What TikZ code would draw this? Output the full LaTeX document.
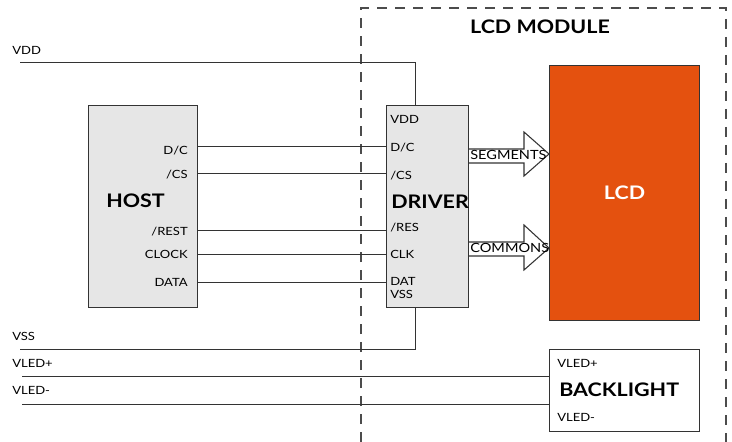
\documentclass[tikz,border=0pt]{standalone}
\usepackage{fontspec}
\setmainfont{Lato}[FakeStretch=1.15]
\usetikzlibrary{positioning,calc}
\definecolor{lcdorange}{HTML}{E4510F}
\definecolor{boxgray}{HTML}{E6E6E6}
\definecolor{wiregray}{HTML}{333333}
\begin{document}
\begin{tikzpicture}[x=0.75pt,y=-0.75pt,
    blk/.style={draw=wiregray, line width=0.8pt, inner sep=0pt, anchor=north west},
    wire/.style={wiregray, line width=0.75pt},
    pinlabel/.style={inner sep=0pt, font=\fontsize{8.5}{10}\selectfont},
    buslabel/.style={inner sep=0pt, font=\fontsize{9.5}{11}\selectfont},
    bigname/.style={inner sep=0pt, font=\fontsize{14}{16}\selectfont\bfseries},
    busarrow/.style={draw=wiregray, fill=white, line width=0.8pt, line join=miter}]
  \useasboundingbox (0,0) rectangle (732,442);
  %modulo
  \draw[gray!60!black, line width=0.8pt, dash pattern=on 7.5pt off 6pt] (361,442) -- (361,8) -- (726,8) -- (726,442);
  \node[bigname] (modname) at (540,27) {LCD MODULE};
  %blocchi
  \node[blk, fill=boxgray, minimum width=81.75pt, minimum height=151.5pt] (host) at (88,105) {};
  \node[blk, fill=boxgray, minimum width=61.5pt, minimum height=151.5pt] (driver) at (386,105) {};
  \node[blk, fill=lcdorange, minimum width=112.5pt, minimum height=191.25pt, text=white, font=\fontsize{14}{16}\selectfont\bfseries] (lcd) at (549,65) {LCD};
  \node[blk, fill=white, minimum width=112.5pt, minimum height=61.5pt] (backlight) at (549,349) {};
  \node[bigname, anchor=west] (hostname) at (106,201) {HOST};
  \node[bigname, anchor=west] (drivername) at (391,202) {DRIVER};
  \node[bigname, anchor=west] (blname) at (559,390) {BACKLIGHT};
  %pin host
  \node[pinlabel, anchor=east] (hdc) at (188,151) {D/C};
  \node[pinlabel, anchor=east] (hcs) at (188,175) {/CS};
  \node[pinlabel, anchor=east] (hres) at (188,232) {/REST};
  \node[pinlabel, anchor=east] (hclk) at (188,254) {CLOCK};
  \node[pinlabel, anchor=east] (hdat) at (188,282) {DATA};
  %pin driver
  \node[pinlabel, anchor=west] (dvdd) at (390,119) {VDD};
  \node[pinlabel, anchor=west] (ddc) at (390,148) {D/C};
  \node[pinlabel, anchor=west] (dcs) at (390,176) {/CS};
  \node[pinlabel, anchor=west] (dres) at (390,228) {/RES};
  \node[pinlabel, anchor=west] (dclk) at (390,254) {CLK};
  \node[pinlabel, anchor=west] (ddat) at (390,281) {DAT};
  \node[pinlabel, anchor=west] (dvss) at (390,294) {VSS};
  %pin backlight
  \node[pinlabel, anchor=west] (blp) at (557,363) {VLED+};
  \node[pinlabel, anchor=west] (blm) at (557,417) {VLED-};
  %alimentazioni
  \node[pinlabel, anchor=west] (vddname) at (12,50) {VDD};
  \node[pinlabel, anchor=west] (vssname) at (12,336) {VSS};
  \node[pinlabel, anchor=west] (vledpname) at (12,363) {VLED+};
  \node[pinlabel, anchor=west] (vledmname) at (12,390) {VLED-};
  \coordinate (vddin) at (20,63);
  \coordinate (vssin) at (20,349);
  \coordinate (vledpin) at (22,376);
  \coordinate (vledmin) at (22,404);
  %fili
  \draw[wire] (vddin) -| ([xshift=21.75pt]driver.north west);
  \draw[wire] (vssin) -| ([xshift=21.75pt]driver.south west);
  \draw[wire] (vledpin) -- (backlight.west |- vledpin);
  \draw[wire] (vledmin) -- (backlight.west |- vledmin);
  \draw[wire] (host.east |- 0,147) -- (driver.west |- 0,147);
  \draw[wire] (host.east |- 0,174) -- (driver.west |- 0,174);
  \draw[wire] (host.east |- 0,231) -- (driver.west |- 0,231);
  \draw[wire] (host.east |- 0,254) -- (driver.west |- 0,254);
  \draw[wire] (host.east |- 0,282) -- (driver.west |- 0,282);
  %bus
  \draw[busarrow] (driver.east |- 0,149) -- (524,149) -- (524,132) -- (lcd.west |- 0,154) -- (524,176) -- (524,163) -- (driver.east |- 0,163);
  \draw[busarrow] (driver.east |- 0,242) -- (524,242) -- (524,225) -- (lcd.west |- 0,248) -- (524,270) -- (524,256) -- (driver.east |- 0,256);
  \node[buslabel, anchor=west] (seglabel) at (470,155) {SEGMENTS};
  \node[buslabel, anchor=west] (comlabel) at (470,248) {COMMONS};
\end{tikzpicture}
\end{document}
